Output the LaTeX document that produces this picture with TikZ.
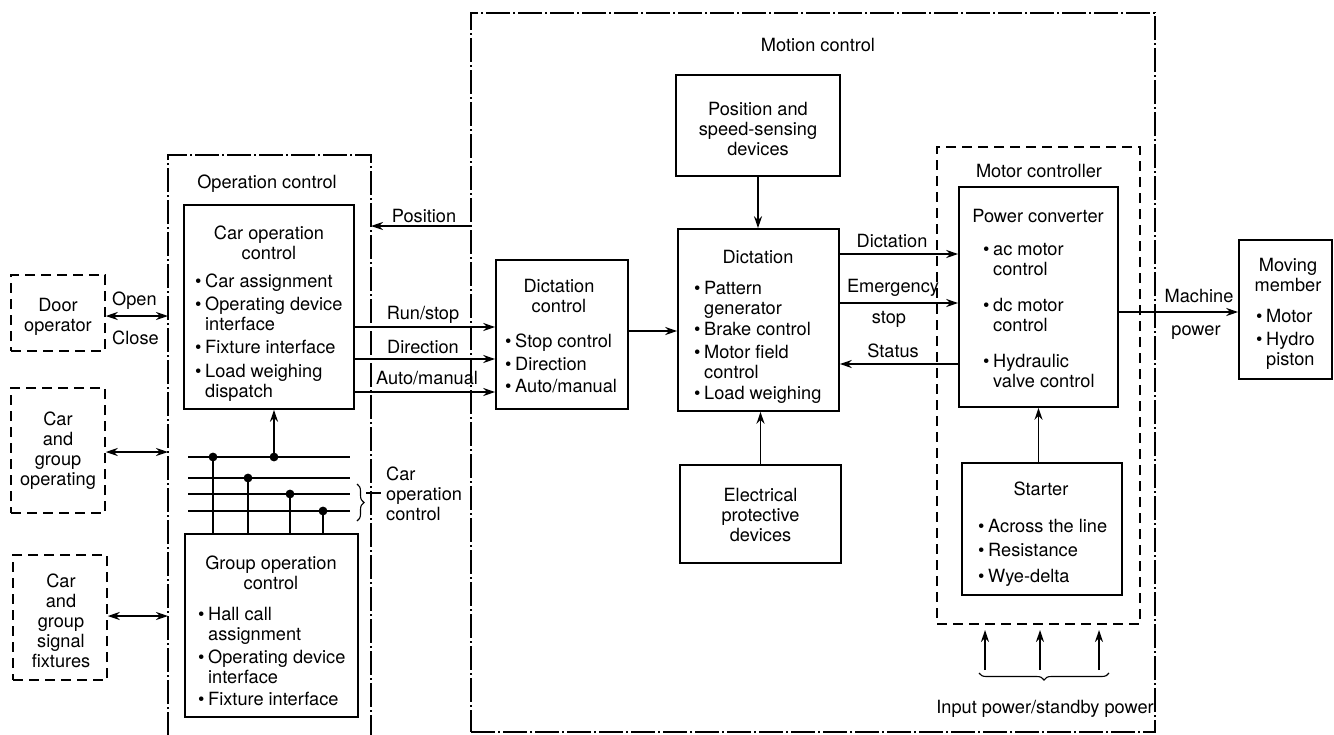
\documentclass[tikz,border=0pt]{standalone}
\usepackage{fontspec}
\setmainfont{TeX Gyre Heros}
\usetikzlibrary{arrows.meta,decorations.pathreplacing,fit}
\newcommand\bl{\makebox[10pt][l]{\textbullet}}
\newcommand\ih{\hspace*{10pt}}
\begin{document}
\begin{tikzpicture}[x=1pt,y=-1pt,
  box/.style={draw, line width=1.6pt, inner sep=0pt},
  dbox/.style={draw, line width=1.5pt, dash pattern=on 10pt off 6pt, inner sep=0pt},
  ddbox/.style={draw, line width=1.5pt, dash pattern=on 24pt off 3pt on 2pt off 3pt, inner sep=0pt},
  txt/.style={inner sep=0pt, font=\fontsize{18.2}{20}\selectfont, align=center},
  lst/.style={inner sep=0pt, font=\fontsize{18.2}{20}\selectfont, align=left, anchor=north west},
  arr/.style={line width=1.6pt, -{Stealth[length=12pt,width=8pt]}},
  darr/.style={line width=1.6pt, {Stealth[length=12pt,width=8pt]}-{Stealth[length=12pt,width=8pt]}},
  ln/.style={line width=1.6pt},
  brc/.style={line width=1.1pt, decorate, decoration={brace, amplitude=7pt}}
]
\useasboundingbox (0,0) rectangle (1334,734);
\fill[white] (0,0) rectangle (1334,734);

% ---------- big dash-dot regions ----------
\draw[ddbox] (168,736) -- (168,155) -- (371,155) -- (371,736);
\coordinate (opcL) at (168,0);
\coordinate (opcR) at (371,0);
\node[ddbox, fit={(471,13)(1155,732)}] (motion) {};
\node[txt, anchor=north] (t_opc) at (267,174.5) {Operation control};
\node[txt, anchor=north] (t_mc) at (818,38.5) {Motion control};

% ---------- left dashed boxes ----------
\node[dbox, fit={(11,275)(105,351)}] (door) {};
\node[txt, anchor=north] (t_door) at (58,298.5) {Door\\operator};
\node[dbox, fit={(11,388)(105,513)}] (cgop) {};
\node[txt, anchor=north] (t_cgop) at (58,411.5) {Car\\and\\group\\operating};
\node[dbox, fit={(13,555)(107,680)}] (sig) {};
\node[txt, anchor=north] (t_sig) at (61,573.5) {Car\\and\\group\\signal\\fixtures};

\node[txt, anchor=base west] (l_open) at (112,305.5) {Open};
\node[txt, anchor=base west] (l_close) at (112,344.5) {Close};

% ---------- operation control boxes ----------
\node[box, fit={(184,205)(354,409)}] (carop) {};
\node[txt, anchor=north] (t_carop) at (269,225.5) {Car operation\\control};
\node[lst] (l_carop) at (195,273.5) {\bl Car assignment\\[3pt]\bl Operating device\\\ih interface\\[3pt]\bl Fixture interface\\[4pt]\bl Load weighing\\\ih dispatch};

\node[box, fit={(185,534)(358,717)}] (grp) {};
\node[txt, anchor=north] (t_grp) at (271,555.5) {Group operation\\control};
\node[lst] (l_grp) at (198,607.5) {\bl Hall call\\\ih assignment\\[3pt]\bl Operating device\\\ih interface\\[2pt]\bl Fixture interface};

% bus
\draw[ln] (188,457) -- (350,457);
\draw[ln] (188,478) -- (350,478);
\draw[ln] (188,494) -- (350,494);
\draw[ln] (188,511) -- (350,511);
\draw[ln] (213,457) -- (grp.north -| 213,0);
\draw[ln] (248,478) -- (grp.north -| 248,0);
\draw[ln] (290,494) -- (grp.north -| 290,0);
\draw[ln] (323,511) -- (grp.north -| 323,0);
\fill (213,457) circle (4.4);
\fill (274,457) circle (4.4);
\fill (248,478) circle (4.4);
\fill (290,494) circle (4.4);
\fill (323,511) circle (4.4);
\draw[arr] (274,457) -- (carop.south -| 274,0);
\draw[brc] (357,484) -- (357,521);
\draw[ln] (366,493) -- (381,493);
\node[txt, align=left, anchor=north west] (l_cop) at (386,466.5) {Car\\operation\\control};

% double arrows to left boxes
\draw[darr] (door.east |- 0,316) -- (opcL |- 0,316);
\draw[darr] (cgop.east |- 0,452) -- (opcL |- 0,452);
\draw[darr] (sig.east |- 0,616) -- (opcL |- 0,616);

% ---------- dictation control ----------
\node[box, fit={(496,260)(628,409)}] (dctl) {};
\node[txt, anchor=north] (t_dctl) at (559,279.5) {Dictation\\control};
\node[lst] (l_dctl) at (505,333.5) {\bl Stop control\\[3pt]\bl Direction\\[2pt]\bl Auto/manual};

\draw[arr] (motion.west |- 0,226) -- (opcR |- 0,226);
\node[txt, anchor=base] (l_pos) at (424,222.5) {Position};
\draw[arr] (carop.east |- 0,327) -- (dctl.west |- 0,327);
\draw[arr] (carop.east |- 0,359) -- (dctl.west |- 0,359);
\draw[arr] (carop.east |- 0,392) -- (dctl.west |- 0,392);
\node[txt, anchor=base] (l_run) at (423,319.5) {Run/stop};
\node[txt, anchor=base] (l_dir) at (423,353.5) {Direction};
\node[txt, anchor=base] (l_auto) at (427,384.5) {Auto/manual};

% ---------- dictation ----------
\node[box, fit={(676,75)(840,176)}] (pos) {};
\node[txt, anchor=north] (t_pos) at (758,102.5) {Position and\\speed-sensing\\devices};
\node[box, fit={(678,229)(839,411)}] (dict) {};
\node[txt, anchor=north] (t_dict) at (758,250.5) {Dictation};
\node[lst] (l_dict) at (694,281.5) {\bl Pattern\\\ih generator\\[1pt]\bl Brake control\\[3pt]\bl Motor field\\\ih control\\[1pt]\bl Load weighing};
\node[box, fit={(680,465)(841,563)}] (elec) {};
\node[txt, anchor=north] (t_elec) at (760.5,488.5) {Electrical\\protective\\devices};

\draw[arr] (dctl.east |- 0,331) -- (dict.west |- 0,331);
\draw[arr] (pos.south) -- (pos.south |- dict.north);
\draw[arr] (elec.north) -- (elec.north |- dict.south);

% ---------- motor controller ----------
\node[dbox, fit={(937,147)(1140,624)}] (mctl) {};
\node[txt, anchor=north] (t_mctl) at (1039,164.5) {Motor controller};
\node[box, fit={(959,187)(1118,407)}] (pc) {};
\node[txt, anchor=north] (t_pc) at (1038,209.5) {Power converter};
\node[lst] (l_pc) at (983,243) {\bl ac motor\\\ih control\\[16pt]\bl dc motor\\\ih control\\[16pt]\bl Hydraulic\\\ih valve control};
\node[box, fit={(962,463)(1122,595)}] (st) {};
\node[txt, anchor=north] (t_st) at (1041,481.5) {Starter};
\node[lst] (l_st) at (978,519.5) {\bl Across the line\\[4pt]\bl Resistance\\[6pt]\bl Wye-delta};

\draw[arr] (dict.east |- 0,254) -- (pc.west |- 0,254);
\draw[arr] (dict.east |- 0,303) -- (pc.west |- 0,303);
\draw[arr] (pc.west |- 0,364) -- (dict.east |- 0,364);
\node[txt, anchor=base] (l_dic) at (892,247.5) {Dictation};
\node[txt, anchor=base] (l_em) at (893,292.5) {Emergency};
\node[txt, anchor=base] (l_stop) at (889,323) {stop};
\node[txt, anchor=base] (l_status) at (893,357.5) {Status};

\draw[arr] (st.north -| pc.south) -- (pc.south);

% input power
\coordinate (in1) at (985,670);
\coordinate (in2) at (1040,670);
\coordinate (in3) at (1099,670);
\draw[arr] (in1) -- (in1 |- 0,630);
\draw[arr] (in2) -- (in2 |- 0,630);
\draw[arr] (in3) -- (in3 |- 0,630);
\draw[brc] (1109,673) -- (979,673);
\node[txt, anchor=base] (l_in) at (1045,713.5) {Input power/standby power};

% ---------- moving member ----------
\node[box, fit={(1239,240)(1332,379)}] (mov) {};
\node[txt, anchor=north] (t_mov) at (1288,258.5) {Moving\\member};
\node[lst] (l_mov) at (1256,309.5) {\bl Motor\\[3pt]\bl Hydro\\\ih piston};
\draw[arr] (pc.east |- 0,312) -- (mov.west |- 0,312);
\node[txt, anchor=base] (l_mach) at (1199,302.5) {Machine};
\node[txt, anchor=base] (l_pow) at (1196,335) {power};
\end{tikzpicture}
\end{document}
